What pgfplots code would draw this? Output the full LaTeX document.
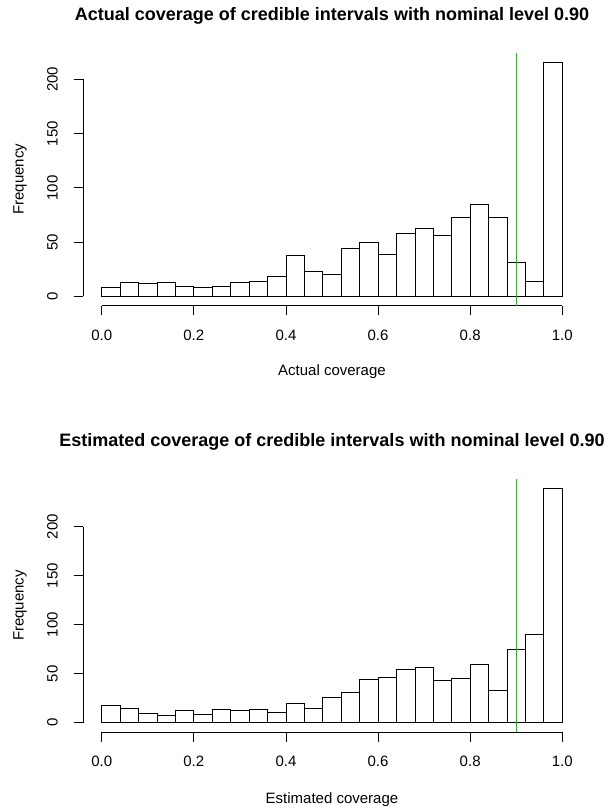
\documentclass[border=0pt]{standalone}
\usepackage{pgfplots}
\pgfplotsset{compat=1.18}
\usepackage{pgfplotstable}
\usepackage{fontspec}
\setmainfont{Liberation Sans}
\definecolor{rgreen}{RGB}{0,210,0}

\pgfplotstableread{
x y
0.00 8
0.04 13
0.08 12
0.12 13
0.16 9
0.20 8
0.24 9
0.28 13
0.32 14
0.36 18
0.40 38
0.44 23
0.48 20
0.52 44
0.56 50
0.60 39
0.64 58
0.68 63
0.72 56
0.76 73
0.80 85
0.84 73
0.88 31
0.92 14
0.96 216
1.00 216
}\actualtab

\pgfplotstableread{
x y
0.00 18
0.04 15
0.08 10
0.12 7
0.16 13
0.20 9
0.24 14
0.28 13
0.32 14
0.36 11
0.40 20
0.44 15
0.48 26
0.52 31
0.56 44
0.60 46
0.64 54
0.68 56
0.72 43
0.76 45
0.80 59
0.84 33
0.88 75
0.92 90
0.96 239
1.00 239
}\estimtab

\pgfplotsset{
  rhist/.style={
    scale only axis,
    width=497.4pt,
    clip=false,
    xmin=-0.04, xmax=1.04,
    axis line style={draw=none},
    tick align=outside,
    major tick length=9.6pt,
    every tick/.style={black, line width=0.8pt},
    xtick={0,0.2,0.4,0.6,0.8,1.0},
    xticklabels={0.0,0.2,0.4,0.6,0.8,1.0},
    xtick pos=lower,
    ytick={0,50,100,150,200},
    yticklabels={0,50,100,150,200},
    ytick pos=left,
    font=\fontsize{15}{18}\selectfont,
    xticklabel style={anchor=base, inner sep=0pt},
    yticklabel style={rotate=90, anchor=base, inner sep=0pt},
    xticklabel shift=25pt,
    yticklabel shift=16pt,
    title style={anchor=base, font=\bfseries\fontsize{18}{21}\selectfont},
    xlabel style={anchor=base},
    ylabel style={anchor=base},
  }
}

\begin{document}
\begin{tikzpicture}
\path[use as bounding box] (0pt,0pt) rectangle (608pt,-812pt);

% top panel
\begin{axis}[rhist,
  at={(83.3pt,-305.7pt)}, anchor=south west,
  height=253.1pt,
  ymin=-8.64, ymax=224.64,
  title={Actual coverage of credible intervals with nominal level 0.90},
  title style={at={(axis description cs:0.5,1.104)}},
  xlabel={Actual coverage},
  xlabel style={at={(axis description cs:0.5,-0.274)}},
  ylabel={Frequency},
  ylabel style={at={(axis description cs:-0.120,0.5)}},
]
\addplot[ybar interval, fill=white, draw=black, line width=0.8pt] table[x=x,y=y] {\actualtab};
\draw[black, line width=0.8pt] (axis cs:0,-8.64) -- (axis cs:1,-8.64);
\draw[black, line width=0.8pt] (axis cs:-0.04,0) -- (axis cs:-0.04,200);
\draw[rgreen, line width=0.9pt] (axis cs:0.9,-8.64) -- (axis cs:0.9,224.64);
\end{axis}

% bottom panel
\begin{axis}[rhist,
  at={(83.3pt,-732.1pt)}, anchor=south west,
  height=253.1pt,
  ymin=-9.56, ymax=248.56,
  title={Estimated coverage of credible intervals with nominal level 0.90},
  title style={at={(axis description cs:0.5,1.104)}},
  xlabel={Estimated coverage},
  xlabel style={at={(axis description cs:0.5,-0.282)}},
  ylabel={Frequency},
  ylabel style={at={(axis description cs:-0.120,0.5)}},
]
\addplot[ybar interval, fill=white, draw=black, line width=0.8pt] table[x=x,y=y] {\estimtab};
\draw[black, line width=0.8pt] (axis cs:0,-9.56) -- (axis cs:1,-9.56);
\draw[black, line width=0.8pt] (axis cs:-0.04,0) -- (axis cs:-0.04,200);
\draw[rgreen, line width=0.9pt] (axis cs:0.9,-9.56) -- (axis cs:0.9,248.56);
\end{axis}
\end{tikzpicture}
\end{document}
